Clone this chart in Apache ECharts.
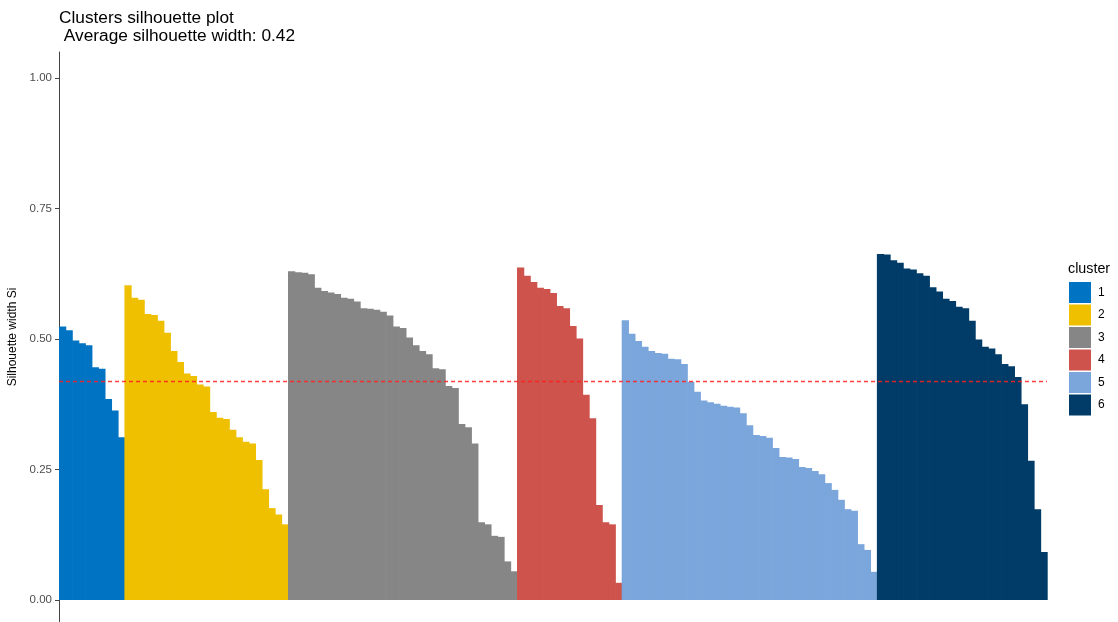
<!DOCTYPE html>
<html>
<head>
<meta charset="utf-8">
<title>Clusters silhouette plot</title>
<script src="https://cdn.jsdelivr.net/npm/echarts@6/dist/echarts.min.js"></script>
<style>
  html, body { margin: 0; padding: 0; background: #ffffff; }
  #chart { width: 1118px; height: 622px; }
</style>
</head>
<body>
<div id="chart"></div>
<script>
// Silhouette widths per observation, grouped by cluster and sorted descending
const cluster1 = [0.524, 0.517, 0.497, 0.492, 0.488, 0.446, 0.443, 0.385, 0.363, 0.312];
const cluster2 = [0.603, 0.579, 0.575, 0.548, 0.546, 0.535, 0.512, 0.477, 0.456, 0.434,
                  0.429, 0.413, 0.409, 0.360, 0.349, 0.347, 0.326, 0.312, 0.303, 0.300,
                  0.268, 0.212, 0.176, 0.164, 0.145];
const cluster3 = [0.630, 0.628, 0.627, 0.624, 0.598, 0.592, 0.589, 0.586, 0.579, 0.577,
                  0.572, 0.559, 0.558, 0.556, 0.552, 0.545, 0.524, 0.521, 0.503, 0.488,
                  0.477, 0.471, 0.444, 0.442, 0.410, 0.406, 0.337, 0.331, 0.300, 0.149,
                  0.145, 0.123, 0.121, 0.074, 0.055];
const cluster4 = [0.637, 0.621, 0.609, 0.598, 0.596, 0.588, 0.563, 0.559, 0.525, 0.501,
                  0.393, 0.348, 0.182, 0.149, 0.145, 0.033];
const cluster5 = [0.536, 0.510, 0.496, 0.485, 0.477, 0.473, 0.472, 0.462, 0.461, 0.452,
                  0.418, 0.399, 0.382, 0.379, 0.376, 0.372, 0.370, 0.369, 0.358, 0.335,
                  0.316, 0.314, 0.311, 0.291, 0.274, 0.273, 0.270, 0.255, 0.253, 0.247,
                  0.241, 0.224, 0.211, 0.192, 0.174, 0.171, 0.107, 0.096, 0.054];
const cluster6 = [0.663, 0.662, 0.651, 0.646, 0.635, 0.633, 0.626, 0.621, 0.599, 0.591,
                  0.577, 0.573, 0.562, 0.559, 0.535, 0.499, 0.485, 0.482, 0.471, 0.452,
                  0.448, 0.427, 0.375, 0.267, 0.174, 0.092];

const clusterNames = ['1', '2', '3', '4', '5', '6'];
const clusterValues = [cluster1, cluster2, cluster3, cluster4, cluster5, cluster6];
const clusterColors = ['#0073C2', '#EFC000', '#868686', '#CD534C', '#7AA6DC', '#003C67'];

const averageWidth = 0.42;
const yTicks = [0, 0.25, 0.5, 0.75, 1.0];

// One category per observation, in cluster order
const total = clusterValues.reduce((n, arr) => n + arr.length, 0);
const categories = Array.from({ length: total }, (_, i) => String(i + 1));

// Bars are drawn edge to edge; each one runs a hair past its right edge so the
// next bar (drawn later) covers the seam and no background shows through.
function makeBarRenderer(color) {
  return function (params, api) {
    const idx = api.value(0);
    const val = api.value(1);
    const top = api.coord([idx, val]);
    const base = api.coord([idx, 0]);
    const band = api.size([1, 0])[0];
    return {
      type: 'rect',
      shape: {
        x: top[0] - band / 2,
        y: top[1],
        width: band + 0.7,
        height: base[1] - top[1]
      },
      style: { fill: color }
    };
  };
}

let offset = 0;
const series = clusterValues.map((vals, k) => {
  const data = vals.map((v, i) => [offset + i, v]);
  offset += vals.length;
  return {
    name: clusterNames[k],
    type: 'custom',
    data: data,
    encode: { x: 0, y: 1 },
    renderItem: makeBarRenderer(clusterColors[k]),
    itemStyle: { color: clusterColors[k] },
    silent: true,
    animation: false
  };
});

// Dashed reference line at the average silhouette width
series.push({
  name: 'average',
  type: 'line',
  data: [],
  silent: true,
  animation: false,
  markLine: {
    silent: true,
    symbol: 'none',
    label: { show: false },
    lineStyle: { color: '#FF2020', opacity: 0.85, width: 1.4, type: [4, 3] },
    data: [{ yAxis: averageWidth }],
    animation: false
  }
});

const chart = echarts.init(document.getElementById('chart'), null, { renderer: 'canvas' });

chart.setOption({
  backgroundColor: '#ffffff',
  animation: false,
  textStyle: { fontFamily: 'Liberation Sans, Arial, sans-serif' },
  title: [
    {
      text: 'Clusters silhouette plot\n Average silhouette width: ' + averageWidth.toFixed(2),
      left: 59,
      top: 9,
      padding: 0,
      textStyle: {
        fontSize: 17.3,
        lineHeight: 18,
        fontWeight: 'normal',
        color: '#000000',
        fontFamily: 'Liberation Sans, Arial, sans-serif'
      }
    },
    {
      text: 'cluster',
      left: 1068,
      top: 262,
      padding: 0,
      textStyle: {
        fontSize: 14.3,
        fontWeight: 'normal',
        color: '#000000',
        fontFamily: 'Liberation Sans, Arial, sans-serif'
      }
    }
  ],
  legend: {
    orient: 'vertical',
    left: 1069,
    top: 282,
    padding: 0,
    itemWidth: 22,
    itemHeight: 21,
    itemGap: 1.5,
    icon: 'rect',
    selectedMode: false,
    data: clusterNames,
    itemStyle: { borderWidth: 0 },
    textStyle: {
      fontSize: 12,
      lineHeight: 12,
      color: '#000000',
      padding: [0, 0, 0, 2],
      fontFamily: 'Liberation Sans, Arial, sans-serif'
    }
  },
  grid: {
    left: 59,
    right: 71,
    top: 52,
    bottom: 0,
    outerBoundsMode: 'none'
  },
  xAxis: {
    type: 'category',
    data: categories,
    boundaryGap: true,
    axisLine: { show: false },
    axisTick: { show: false },
    axisLabel: { show: false },
    splitLine: { show: false }
  },
  yAxis: {
    type: 'value',
    min: -0.0421,
    max: 1.0498,
    name: 'Silhouette width Si',
    nameLocation: 'middle',
    nameRotate: 90,
    nameGap: 36,
    nameTextStyle: {
      fontSize: 12,
      color: '#000000',
      fontFamily: 'Liberation Sans, Arial, sans-serif'
    },
    axisLine: { show: true, lineStyle: { color: '#444444', width: 1 } },
    axisTick: {
      show: true,
      length: 4,
      customValues: yTicks,
      lineStyle: { color: '#444444', width: 1 }
    },
    axisLabel: {
      show: true,
      customValues: yTicks,
      margin: 7,
      fontSize: 11.5,
      color: '#4D4D4D',
      formatter: (v) => v.toFixed(2),
      fontFamily: 'Liberation Sans, Arial, sans-serif'
    },
    splitLine: { show: false }
  },
  series: series
});
</script>
</body>
</html>
